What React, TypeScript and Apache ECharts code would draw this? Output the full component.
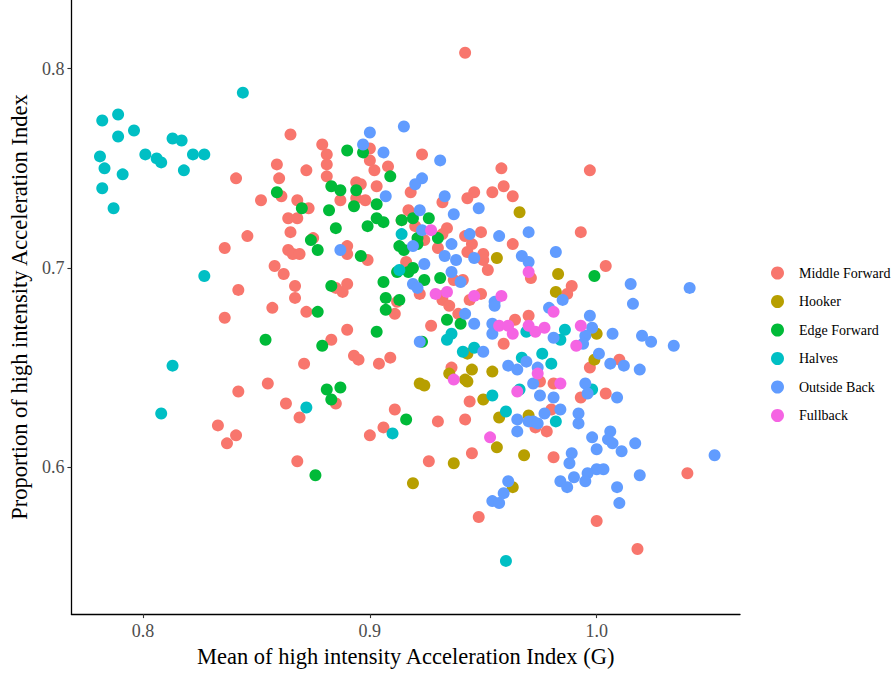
import React, { useEffect, useRef } from "react";
import * as echarts from "echarts";

const categories = ["Middle Forward", "Hooker", "Edge Forward", "Halves", "Outside Back", "Fullback"];
const colors = ["#F8766D", "#B79F00", "#00BA38", "#00BFC4", "#619CFF", "#F564E3"];
const xTicks = [0.8, 0.9, 1.0];
const yTicks = [0.6, 0.7, 0.8];

const middleForward = [
  [0.865,0.767],[0.859,0.752],[0.860,0.745],[0.841,0.745],[0.852,0.734],[0.861,0.736],[0.868,0.734],[0.864,0.725],[0.868,0.725],[0.865,0.718],
  [0.846,0.716],[0.872,0.749],[0.942,0.808],[0.879,0.762],[0.881,0.757],[0.881,0.752],[0.881,0.746],[0.900,0.760],[0.900,0.754],[0.902,0.749],
  [0.908,0.751],[0.923,0.757],[0.958,0.750],[0.959,0.741],[0.963,0.736],[0.954,0.738],[0.946,0.738],[0.943,0.735],[0.918,0.738],[0.932,0.733],
  [0.894,0.743],[0.896,0.742],[0.903,0.741],[0.887,0.734],[0.894,0.735],[0.898,0.734],[0.873,0.730],[0.917,0.729],[0.914,0.724],[0.920,0.721],
  [0.934,0.720],[0.932,0.717],[0.949,0.718],[0.942,0.716],[0.997,0.749],[0.993,0.718],[0.836,0.710],[0.864,0.709],[0.866,0.707],[0.869,0.707],
  [0.858,0.701],[0.862,0.697],[0.842,0.689],[0.867,0.691],[0.867,0.685],[0.857,0.680],[0.872,0.678],[0.836,0.675],[0.871,0.652],[0.855,0.642],
  [0.842,0.638],[0.863,0.632],[0.869,0.625],[0.833,0.621],[0.875,0.715],[0.890,0.711],[0.890,0.707],[0.899,0.704],[0.924,0.714],[0.930,0.710],
  [0.945,0.712],[0.943,0.708],[0.950,0.707],[0.950,0.704],[0.963,0.712],[0.952,0.699],[0.916,0.703],[0.922,0.687],[0.937,0.694],[0.941,0.694],
  [0.888,0.688],[0.890,0.692],[0.885,0.690],[0.912,0.683],[0.911,0.677],[0.932,0.686],[0.932,0.684],[0.935,0.681],[0.944,0.684],[0.949,0.687],
  [0.890,0.669],[0.883,0.664],[0.927,0.671],[0.939,0.677],[0.964,0.674],[0.959,0.662],[0.893,0.656],[0.895,0.654],[0.904,0.652],[0.909,0.655],
  [0.936,0.650],[0.885,0.632],[0.911,0.629],[0.944,0.633],[0.930,0.623],[0.942,0.624],[0.906,0.620],[0.971,0.695],[1.004,0.701],[0.989,0.691],
  [0.987,0.687],[0.970,0.676],[0.975,0.643],[0.981,0.642],[0.997,0.650],[1.010,0.654],[0.993,0.635],[1.004,0.637],[0.980,0.629],[0.841,0.616],
  [0.837,0.612],[0.868,0.603],[0.900,0.616],[0.945,0.607],[0.926,0.603],[0.948,0.575],[0.973,0.620],[0.978,0.618],[0.981,0.605],[1.040,0.597],
  [1.000,0.573],[1.018,0.559]
];

const hooker = [
  [0.966,0.728],[0.956,0.705],[0.943,0.657],[0.935,0.647],[0.945,0.649],[0.942,0.644],[0.943,0.643],[0.954,0.648],[0.922,0.642],[0.924,0.641],
  [0.950,0.634],[0.957,0.625],[0.983,0.697],[0.982,0.688],[1.000,0.667],[0.999,0.654],[0.970,0.626],[0.956,0.610],[0.937,0.602],[0.968,0.606],
  [0.919,0.592],[0.963,0.590]
];

const edgeForward = [
  [0.859,0.738],[0.870,0.730],[0.854,0.664],[0.874,0.714],[0.890,0.759],[0.897,0.758],[0.909,0.746],[0.883,0.741],[0.887,0.739],[0.894,0.739],
  [0.903,0.732],[0.882,0.729],[0.893,0.731],[0.885,0.720],[0.899,0.721],[0.903,0.725],[0.906,0.723],[0.914,0.724],[0.919,0.725],[0.926,0.725],
  [0.921,0.715],[0.930,0.715],[0.877,0.709],[0.896,0.706],[0.913,0.711],[0.915,0.709],[0.921,0.712],[0.912,0.698],[0.917,0.698],[0.919,0.700],
  [0.924,0.694],[0.931,0.695],[0.883,0.691],[0.906,0.693],[0.907,0.685],[0.913,0.684],[0.907,0.679],[0.877,0.678],[0.903,0.668],[0.879,0.661],
  [0.923,0.663],[0.934,0.674],[0.940,0.672],[0.881,0.639],[0.887,0.640],[0.883,0.634],[0.916,0.624],[0.999,0.696],[0.876,0.596]
];

const halves = [
  [0.782,0.774],[0.789,0.777],[0.796,0.769],[0.789,0.766],[0.781,0.756],[0.783,0.750],[0.791,0.747],[0.782,0.740],[0.787,0.730],[0.801,0.757],
  [0.806,0.755],[0.808,0.753],[0.813,0.765],[0.817,0.764],[0.822,0.757],[0.827,0.757],[0.818,0.749],[0.844,0.788],[0.827,0.696],[0.813,0.651],
  [0.808,0.627],[0.872,0.630],[0.914,0.717],[0.913,0.699],[0.936,0.667],[0.934,0.664],[0.941,0.658],[0.946,0.660],[0.967,0.655],[0.954,0.636],
  [0.960,0.628],[0.969,0.668],[0.986,0.669],[0.984,0.664],[0.976,0.657],[0.980,0.652],[0.966,0.639],[0.998,0.639],[0.982,0.623],[0.910,0.617],
  [0.960,0.553]
];

const outsideBack = [
  [0.900,0.768],[0.915,0.771],[0.897,0.762],[0.906,0.758],[0.931,0.754],[0.923,0.745],[0.920,0.742],[0.933,0.736],[0.907,0.736],[0.937,0.727],
  [0.948,0.730],[0.922,0.729],[0.970,0.718],[0.957,0.716],[0.944,0.717],[0.887,0.709],[0.923,0.719],[0.936,0.712],[0.933,0.706],[0.938,0.704],
  [0.946,0.705],[0.967,0.706],[0.919,0.711],[0.924,0.702],[0.919,0.692],[0.921,0.690],[0.936,0.698],[0.940,0.693],[0.955,0.683],[0.955,0.681],
  [0.942,0.677],[0.946,0.672],[0.954,0.672],[0.954,0.667],[0.922,0.663],[0.950,0.658],[0.961,0.651],[0.965,0.649],[0.970,0.703],[0.982,0.708],
  [0.985,0.684],[1.015,0.692],[1.041,0.690],[1.016,0.682],[0.979,0.680],[0.997,0.676],[0.998,0.670],[0.995,0.666],[0.994,0.662],[1.007,0.667],
  [1.020,0.666],[1.024,0.663],[1.034,0.661],[0.969,0.653],[0.974,0.650],[0.972,0.642],[1.001,0.657],[1.006,0.652],[1.012,0.651],[1.019,0.649],
  [0.995,0.642],[0.996,0.637],[1.009,0.635],[0.975,0.636],[0.981,0.635],[0.977,0.627],[0.984,0.629],[0.992,0.627],[0.965,0.624],[0.972,0.623],
  [0.992,0.622],[0.981,0.665],[0.965,0.618],[0.961,0.593],[0.959,0.587],[0.954,0.583],[0.957,0.582],[0.970,0.623],[0.974,0.622],[0.998,0.615],
  [1.006,0.618],[1.005,0.614],[1.007,0.612],[1.017,0.612],[1.000,0.609],[1.011,0.608],[1.052,0.606],[0.989,0.607],[0.988,0.602],[1.000,0.599],
  [1.003,0.599],[0.996,0.597],[0.990,0.595],[0.984,0.593],[0.987,0.590],[0.995,0.593],[1.019,0.596],[1.009,0.590],[1.010,0.582]
];

const fullback = [
  [0.927,0.719],[0.929,0.687],[0.934,0.688],[0.946,0.686],[0.958,0.686],[0.957,0.671],[0.961,0.671],[0.963,0.667],[0.937,0.644],[0.965,0.638],
  [0.970,0.698],[0.981,0.678],[0.970,0.671],[0.973,0.668],[0.977,0.670],[0.993,0.671],[0.991,0.661],[0.974,0.647],[0.984,0.642],[0.953,0.615]
];

const FONT = "'Liberation Serif', 'DejaVu Serif', serif";

export default function App() {
  const ref = useRef<HTMLDivElement>(null);
  useEffect(() => {
    if (!ref.current) return;
    const chart = echarts.init(ref.current, null, { renderer: "svg" });
    const groups = [middleForward, hooker, edgeForward, halves, outsideBack, fullback];
    chart.setOption({
      animation: false,
      backgroundColor: "#ffffff",
      textStyle: { fontFamily: FONT },
      grid: { left: 60, right: 154, top: 0, bottom: 52, containLabel: false },
      xAxis: {
        type: "value",
        min: 0.7684,
        max: 1.0632,
        name: "Mean of high intensity Acceleration Index (G)",
        nameLocation: "middle",
        nameGap: 29,
        nameTextStyle: { fontSize: 22.5, color: "#000", fontFamily: FONT },
        axisLine: { show: true, onZero: false, lineStyle: { color: "#000", width: 1.3 } },
        axisTick: { show: true, length: 4, customValues: xTicks, lineStyle: { color: "#333", width: 1.1 } },
        axisLabel: {
          customValues: xTicks,
          formatter: (v: number) => v.toFixed(1),
          fontSize: 18,
          color: "#4d4d4d",
          margin: 8,
          fontFamily: FONT,
        },
        splitLine: { show: false },
      },
      yAxis: {
        type: "value",
        min: 0.5263,
        max: 0.8345,
        name: "Proportion of high intensity Acceleration Index",
        nameLocation: "middle",
        nameGap: 36,
        nameTextStyle: { fontSize: 22.5, color: "#000", fontFamily: FONT },
        axisLine: { show: true, onZero: false, lineStyle: { color: "#000", width: 1.3 } },
        axisTick: { show: true, length: 4, customValues: yTicks, lineStyle: { color: "#333", width: 1.1 } },
        axisLabel: {
          customValues: yTicks,
          formatter: (v: number) => v.toFixed(1),
          fontSize: 18,
          color: "#4d4d4d",
          margin: 7,
          fontFamily: FONT,
        },
        splitLine: { show: false },
      },
      legend: {
        orient: "vertical",
        left: 766,
        top: 261,
        itemWidth: 13,
        itemHeight: 13,
        itemGap: 14.5,
        icon: "circle",
        data: categories,
        textStyle: { fontSize: 14, color: "#000", fontFamily: FONT, lineHeight: 13, padding: [0, 0, 0, 10] },
      },
      series: groups.map((d, i) => ({
        name: categories[i],
        type: "scatter",
        data: d,
        symbol: "circle",
        symbolSize: 12,
        itemStyle: { color: colors[i], opacity: 1 },
        emphasis: { disabled: true },
      })),
    });
    return () => chart.dispose();
  }, []);
  return (
    <div
      ref={ref}
      style={{ position: "fixed", left: 0, top: 0, width: 894, height: 673, background: "#fff" }}
    />
  );
}
